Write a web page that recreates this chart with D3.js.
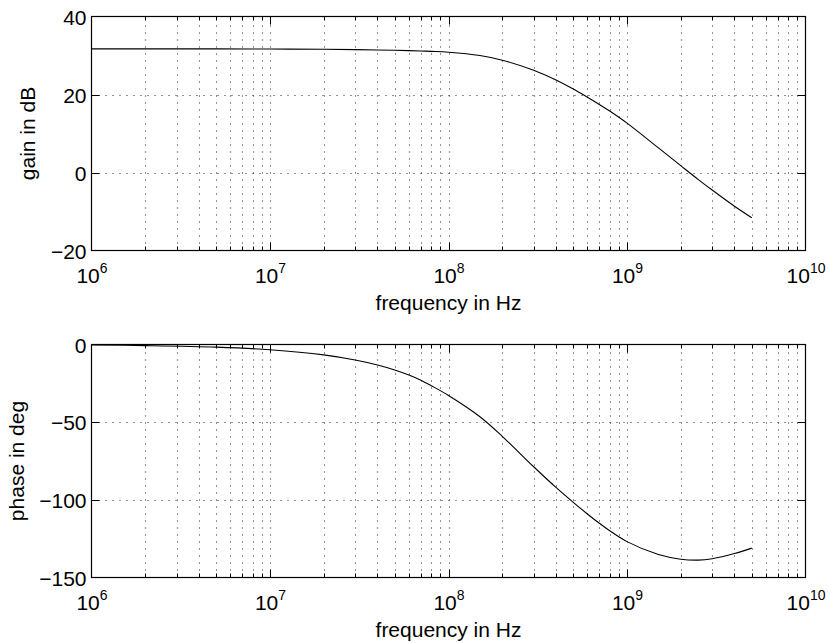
<!DOCTYPE html>
<html><head><meta charset="utf-8">
<script src="https://cdn.jsdelivr.net/npm/d3@7"></script>
<style>
body{margin:0;background:#fff}
svg{display:block;background:#fff}
text{font-family:"Liberation Sans",Arial,Helvetica,sans-serif;fill:#000}
</style>
</head><body>
<svg id="chart" width="829" height="643"></svg>
<script>
// ---- data ----
const freqs = [1e6, 2e6, 5e6, 1e7, 2e7, 3e7, 4e7, 5e7, 6e7, 7e7, 8e7, 1e8, 1.5e8, 2e8, 3e8, 4e8, 5e8, 6e8, 7e8, 8e8, 1e9, 1.5e9, 2e9, 2.5e9, 3e9, 4e9, 5e9];
const gainDb = [31.7, 31.7, 31.7, 31.65, 31.6, 31.5, 31.4, 31.35, 31.25, 31.15, 31.05, 30.85, 30.0, 28.8, 26.2, 23.7, 21.4, 19.3, 17.45, 15.75, 12.65, 6.3, 1.75, -1.75, -4.5, -8.65, -11.6];
const phaseDeg = [-0.3, -0.7, -1.7, -3.4, -6.7, -10.0, -13.2, -16.4, -19.7, -23.0, -26.5, -32.8, -46.5, -59.1, -78.7, -92.0, -101.6, -109.1, -115.1, -119.9, -126.9, -135.2, -138.2, -138.8, -137.9, -134.6, -131.1];
const decadeTicks = [1e6, 1e7, 1e8, 1e9, 1e10];
const decadeExp = ["6", "7", "8", "9", "10"];
const gainTicks = [-20, 0, 20, 40];
const phaseTicks = [-150, -100, -50, 0];
const xLabelText = "frequency in Hz";
const gainLabel = "gain in dB";
const phaseLabel = "phase in deg";

// ---- layout ----
const svg = d3.select("#chart");
const x = d3.scaleLog().domain([1e6, 1e10]).range([91.5, 805.5]);

const panels = [
  {top: 16.5, bottom: 250.5, domain: [-20, 40], ticks: gainTicks, values: gainDb, label: gainLabel, labelX: 35},
  {top: 344.5, bottom: 577.5, domain: [-150, 0], ticks: phaseTicks, values: phaseDeg, label: phaseLabel, labelX: 24}
];

const fmt = v => (v < 0 ? "\u2212" + Math.abs(v) : String(v));

panels.forEach(p => {
  const y = d3.scaleLinear().domain(p.domain).range([p.bottom, p.top]);
  const g = svg.append("g");
  const [x0, x1] = x.range();

  // grid lines
  const allX = x.ticks().filter(t => t > 1e6 && t < 1e10);
  g.append("g").selectAll("line").data(allX).join("line")
    .attr("x1", d => Math.round(x(d)) + 0.5).attr("x2", d => Math.round(x(d)) + 0.5)
    .attr("y1", p.bottom).attr("y2", p.top)
    .attr("stroke", "#222").attr("stroke-width", 1).attr("stroke-dasharray", "1,6");
  g.append("g").selectAll("line").data(p.ticks.filter(t => t > p.domain[0] && t < p.domain[1])).join("line")
    .attr("x1", x0).attr("x2", x1)
    .attr("y1", d => Math.round(y(d)) + 0.5).attr("y2", d => Math.round(y(d)) + 0.5)
    .attr("stroke", "#222").attr("stroke-width", 1).attr("stroke-dasharray", "1,6");

  // inward ticks: x (bottom & top)
  const xt = x.ticks().filter(t => t > 1e6 && t < 1e10);
  const isMajor = t => Math.abs(Math.log10(t) - Math.round(Math.log10(t))) < 1e-9;
  const tk = g.append("g").attr("stroke", "#000").attr("stroke-width", 1);
  tk.selectAll("line.xb").data(xt).join("line").attr("class", "xb")
    .attr("x1", d => Math.round(x(d)) + 0.5).attr("x2", d => Math.round(x(d)) + 0.5)
    .attr("y1", p.bottom).attr("y2", d => p.bottom - (isMajor(d) ? 8 : 4));
  tk.selectAll("line.xt").data(xt).join("line").attr("class", "xt")
    .attr("x1", d => Math.round(x(d)) + 0.5).attr("x2", d => Math.round(x(d)) + 0.5)
    .attr("y1", p.top).attr("y2", d => p.top + (isMajor(d) ? 8 : 4));
  // y ticks (left & right)
  const yt = p.ticks.filter(t => t > p.domain[0] && t < p.domain[1]);
  tk.selectAll("line.yl").data(yt).join("line").attr("class", "yl")
    .attr("x1", x0).attr("x2", x0 + 8)
    .attr("y1", d => Math.round(y(d)) + 0.5).attr("y2", d => Math.round(y(d)) + 0.5);
  tk.selectAll("line.yr").data(yt).join("line").attr("class", "yr")
    .attr("x1", x1).attr("x2", x1 - 8)
    .attr("y1", d => Math.round(y(d)) + 0.5).attr("y2", d => Math.round(y(d)) + 0.5);

  // curve
  const pts = freqs.map((f, i) => ({f, v: p.values[i]}));
  g.append("path").datum(pts)
    .attr("fill", "none").attr("stroke", "#000").attr("stroke-width", 1.1)
    .attr("d", d3.line().x(d => x(d.f)).y(d => y(d.v)).curve(d3.curveCatmullRom.alpha(0.5)));

  // box
  g.append("rect").attr("x", x0).attr("y", p.top).attr("width", x1 - x0).attr("height", p.bottom - p.top)
    .attr("fill", "none").attr("stroke", "#000").attr("stroke-width", 1.2);

  // y tick labels via axis
  const ay = g.append("g").attr("transform", `translate(${x0 - 5},0)`)
    .call(d3.axisLeft(y).tickValues(p.ticks).tickSize(0).tickFormat(fmt));
  ay.select(".domain").remove();
  ay.selectAll("text").attr("font-size", 21).attr("x", 0).attr("dy", "0.36em")
    .style("font-family", '"Liberation Sans",Arial,sans-serif').attr("fill", "#000");

  // x tick labels via axis, with superscript exponents
  const ax = g.append("g").attr("transform", `translate(0,${p.bottom})`)
    .call(d3.axisBottom(x).tickValues(decadeTicks).tickSize(0).tickFormat(() => ""));
  ax.select(".domain").remove();
  ax.selectAll("text").each(function(d, i) {
    const t = d3.select(this).attr("y", 32.5).attr("dy", null)
      .attr("font-size", 21).attr("text-anchor", "middle")
      .style("font-family", '"Liberation Sans",Arial,sans-serif').attr("fill", "#000");
    t.text(null);
    t.append("tspan").text("10");
    t.append("tspan").attr("font-size", 14).attr("dy", -10).text(decadeExp[i]);
  });

  // axis labels
  g.append("text").attr("x", (x0 + x1) / 2).attr("y", p.bottom + 59)
    .attr("text-anchor", "middle").attr("font-size", 21).text(xLabelText);
  g.append("text").attr("transform", `translate(${p.labelX},${(p.top + p.bottom) / 2}) rotate(-90)`)
    .attr("text-anchor", "middle").attr("font-size", 21).text(p.label);
});
</script>
</body></html>
